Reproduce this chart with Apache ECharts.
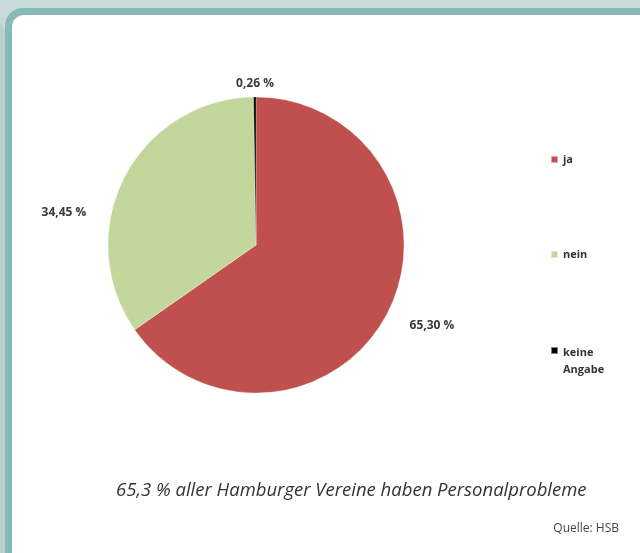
<!DOCTYPE html>
<html>
<head>
<meta charset="utf-8">
<script src="https://cdn.jsdelivr.net/npm/echarts@6/dist/echarts.min.js"></script>
<style>
html,body{margin:0;padding:0;background:#c8dbdb;}
#chart{width:640px;height:553px;}
</style>
</head>
<body>
<div id="chart"></div>
<script>
const categories = ['ja', 'nein', 'keine Angabe'];
const values = [65.30, 34.45, 0.26];
const colors = ['#c0504d', '#c3d69b', '#000000'];
const caption = '65,3 % aller Hamburger Vereine haben Personalprobleme';
const source = 'Quelle: HSB';

const labelPos = [[432, 326], [64, 213], [255, 84]];

const chart = echarts.init(document.getElementById('chart'), null, {renderer: 'canvas'});
const fmt = v => v.toFixed(2).replace('.', ',') + ' %';

const option = {
  animation: false,
  backgroundColor: '#c8dbdb',
  color: colors,
  graphic: [
    {type: 'polygon', z: -10, shape: {points: [[0, 22], [5, 30], [5, 553], [0, 553]]}, style: {fill: '#b9d0ce'}},
    {type: 'rect', z: -9, shape: {x: 5, y: 8, width: 660, height: 580, r: 18}, style: {fill: '#87bab6'}},
    {type: 'rect', z: -8, shape: {x: 12, y: 15, width: 660, height: 580, r: 12}, style: {fill: '#ffffff'}},
    {type: 'text', left: 116, top: 481, style: {text: caption, font: 'italic 18.5px "Open Sans"', fill: '#333333'}},
    {type: 'text', right: 21, top: 523, style: {text: source, font: '12px "Open Sans"', fill: '#444444'}}
  ],
  legend: [
    {
      orient: 'vertical', left: 545, top: 148, itemGap: 82,
      itemWidth: 7, itemHeight: 7, icon: 'rect',
      data: ['ja', 'nein'],
      textStyle: {fontSize: 11, fontWeight: 'bold', color: '#333', fontFamily: 'Open Sans', lineHeight: 13}
    },
    {
      orient: 'vertical', left: 545, top: 339,
      itemWidth: 7, itemHeight: 28,
      icon: 'path://M0,0L7,0L7,7L0,7Z M0,28L0.01,28L0.01,28.01Z',
      data: ['keine Angabe'],
      formatter: n => n.replace(' ', '\n'),
      textStyle: {fontSize: 11, fontWeight: 'bold', color: '#333', fontFamily: 'Open Sans', lineHeight: 17}
    }
  ],
  series: [{
    type: 'pie',
    center: [256, 245],
    radius: 148,
    startAngle: 90,
    clockwise: true,
    data: categories.map((c, i) => ({name: c, value: values[i]})),
    itemStyle: {borderColor: 'rgba(255,255,255,0.5)', borderWidth: 0.5},
    label: {
      show: true, position: 'outside',
      formatter: p => fmt(p.value),
      fontSize: 12, fontWeight: 'bold', color: '#3a3a3a', fontFamily: 'Open Sans'
    },
    labelLine: {show: false},
    labelLayout: p => ({x: labelPos[p.dataIndex][0], y: labelPos[p.dataIndex][1], align: 'center', verticalAlign: 'middle'}),
    emphasis: {disabled: true}
  }]
};
chart.setOption(option);
</script>
</body>
</html>
